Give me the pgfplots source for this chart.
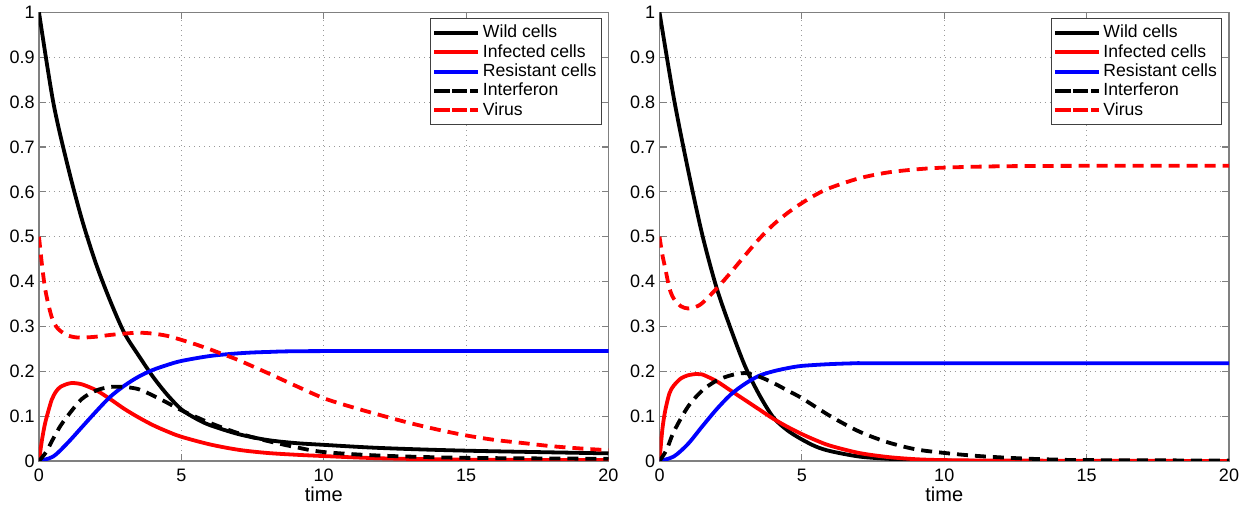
\documentclass[border=0pt]{standalone}
\usepackage{fontspec}
\setmainfont{Liberation Sans}
\usepackage{pgfplots}
\pgfplotsset{compat=1.18}

\definecolor{mred}{rgb}{1,0,0}
\definecolor{mblue}{rgb}{0,0,1}

\pgfplotsset{
  panel/.style={
    scale only axis, width=284.75pt, height=224.3pt,
    xmin=0, xmax=20, ymin=0, ymax=1,
    xtick={0,5,10,15,20},
    ytick={0,0.1,0.2,0.3,0.4,0.5,0.6,0.7,0.8,0.9,1},
    tick pos=both, tick align=inside, major tick length=3.5pt,
    axis line style={black!50, line width=0.6pt},
    tick style={black!50, line width=0.6pt},
    grid=major,
    major grid style={black!40, line width=0.5pt, dash pattern=on 0.5pt off 2pt},
    tick label style={font=\fontsize{9}{10.8}\selectfont},
    /pgf/number format/assume math mode=true,
    /pgf/number format/fixed,
    xticklabel style={anchor=base, yshift=-10.5pt},
    yticklabel style={anchor=east, inner sep=0pt, xshift=-2pt},
    xlabel=time,
    xlabel style={at={(axis description cs:0.5,0)}, anchor=base, yshift=-20.5pt,
      inner sep=0pt, font=\fontsize{10}{12}\selectfont},
    legend style={at={(rel axis cs:0.9885,0.9866)}, anchor=north east,
      draw=black!75, line width=0.5pt, fill=white,
      font=\fontsize{8.8}{10}\selectfont,
      inner xsep=1pt, inner ysep=1.6pt, row sep=-1.2pt,
      cells={anchor=west}, nodes={inner sep=1.5pt}},
    legend image code/.code={%
      \path (-3.8pt,0pt) -- (18pt,0pt);
      \draw[##1] (0pt,0pt) -- (15pt,0pt);},
  },
  crv/.style={line width=1.9pt, smooth, tension=0.5},
  dsh/.style={crv, dash pattern=on 5.5pt off 3.5pt,
    legend image code/.code={%
      \path (-3.8pt,0pt) -- (18pt,0pt);
      \draw[##1, solid] (0pt,0pt) -- (4pt,0pt) (8.5pt,0pt) -- (12.5pt,0pt);}},
}

\begin{document}
\begin{tikzpicture}
% left panel
\begin{axis}[panel]
\addplot[crv, black] coordinates {
 (0,1) (0.5,0.8) (1,0.66) (1.5,0.54) (2,0.44) (2.5,0.357) (3,0.285) (3.5,0.235)
 (4,0.188) (4.5,0.148) (5,0.115) (5.5,0.095) (6,0.08) (7,0.06) (8,0.047) (9,0.04)
 (10,0.036) (12,0.029) (15,0.023) (20,0.017)};
\addplot[crv, mred] coordinates {
 (0,0) (0.1,0.045) (0.2,0.08) (0.3,0.105) (0.45,0.137) (0.6,0.155) (0.75,0.165)
 (1,0.172) (1.15,0.174) (1.5,0.171) (2,0.158) (2.5,0.138) (3,0.116) (3.5,0.097)
 (4,0.08) (4.5,0.066) (5,0.054) (6,0.037) (7,0.025) (8,0.018) (9,0.014)
 (10,0.011) (12,0.006) (15,0.003) (20,0.002)};
\addplot[crv, mblue] coordinates {
 (0,0) (0.5,0.01) (1,0.04) (1.5,0.075) (2,0.11) (2.5,0.143) (3,0.168) (3.5,0.188)
 (4,0.203) (4.5,0.214) (5,0.223) (6,0.234) (7,0.24) (8,0.243) (10,0.245) (20,0.245)};
\addplot[dsh, black] coordinates {
 (0,0) (0.25,0.02) (0.5,0.05) (0.75,0.078) (1,0.1) (1.5,0.138) (2,0.157) (2.5,0.165)
 (3,0.165) (3.5,0.16) (4,0.146) (4.5,0.13) (5,0.113) (6,0.085) (7,0.062) (8,0.045)
 (9,0.031) (10,0.02) (12,0.012) (15,0.007) (20,0.005)};
\addplot[dsh, mred] coordinates {
 (0,0.5) (0.1,0.44) (0.2,0.39) (0.3,0.357) (0.45,0.32) (0.6,0.3) (0.75,0.29)
 (1,0.28) (1.25,0.276) (1.5,0.275) (2,0.277) (2.5,0.281) (3,0.284) (3.5,0.286)
 (4,0.284) (4.5,0.279) (5,0.27) (5.5,0.26) (6,0.249) (6.5,0.237) (7,0.225)
 (8,0.197) (9,0.168) (10,0.14) (11,0.12) (12,0.102) (13,0.085) (14,0.07)
 (15,0.057) (16,0.047) (17,0.04) (18,0.033) (19,0.028) (20,0.024)};
\legend{Wild cells,Infected cells,Resistant cells,Interferon,Virus}
\end{axis}
% right panel
\begin{axis}[panel, at={(310.25pt,0pt)}]
\addplot[crv, black] coordinates {
 (0,1) (0.5,0.81) (1,0.65) (1.5,0.505) (2,0.387) (2.5,0.295) (3,0.212) (3.5,0.148)
 (4,0.097) (4.5,0.068) (5,0.048) (5.5,0.032) (6,0.022) (7,0.01) (8,0.005)
 (9,0.002) (10,0.001) (12,0) (20,0)};
\addplot[crv, mred] coordinates {
 (0,0) (0.1,0.07) (0.2,0.112) (0.35,0.151) (0.5,0.168) (0.75,0.184) (1,0.191)
 (1.3,0.194) (1.5,0.193) (2,0.178) (2.5,0.157) (3,0.136) (3.5,0.115) (4,0.094)
 (4.5,0.076) (5,0.06) (5.5,0.046) (6,0.034) (7,0.018) (8,0.009) (9,0.004)
 (10,0.002) (12,0.001) (20,0)};
\addplot[crv, mblue] coordinates {
 (0,0) (0.5,0.01) (1,0.038) (1.5,0.077) (2,0.115) (2.5,0.148) (3,0.172) (3.5,0.19)
 (4,0.2) (4.5,0.207) (5,0.212) (6,0.216) (7,0.218) (8,0.218) (20,0.218)};
\addplot[dsh, black] coordinates {
 (0,0) (0.25,0.025) (0.5,0.065) (1,0.121) (1.5,0.157) (2,0.179) (2.5,0.191)
 (3,0.196) (3.5,0.188) (4,0.174) (4.5,0.157) (5,0.14) (6,0.1) (7,0.066) (8,0.042)
 (9,0.026) (10,0.018) (11,0.012) (12,0.008) (13,0.005) (14,0.003) (15,0.002)
 (20,0.001)};
\addplot[dsh, mred] coordinates {
 (0,0.5) (0.1,0.46) (0.2,0.43) (0.35,0.385) (0.5,0.362) (0.75,0.345) (1,0.34)
 (1.25,0.343) (1.5,0.352) (2,0.384) (2.5,0.42) (3,0.458) (3.5,0.495) (4,0.527)
 (4.5,0.553) (5,0.575) (5.5,0.594) (6,0.609) (7,0.63) (8,0.643) (9,0.65)
 (10,0.654) (12,0.657) (15,0.658) (20,0.658)};
\legend{Wild cells,Infected cells,Resistant cells,Interferon,Virus}
\end{axis}
\pgfresetboundingbox
\path[use as bounding box] (-19.5pt,-23.5pt) rectangle (607pt,230.5pt);
\end{tikzpicture}
\end{document}
